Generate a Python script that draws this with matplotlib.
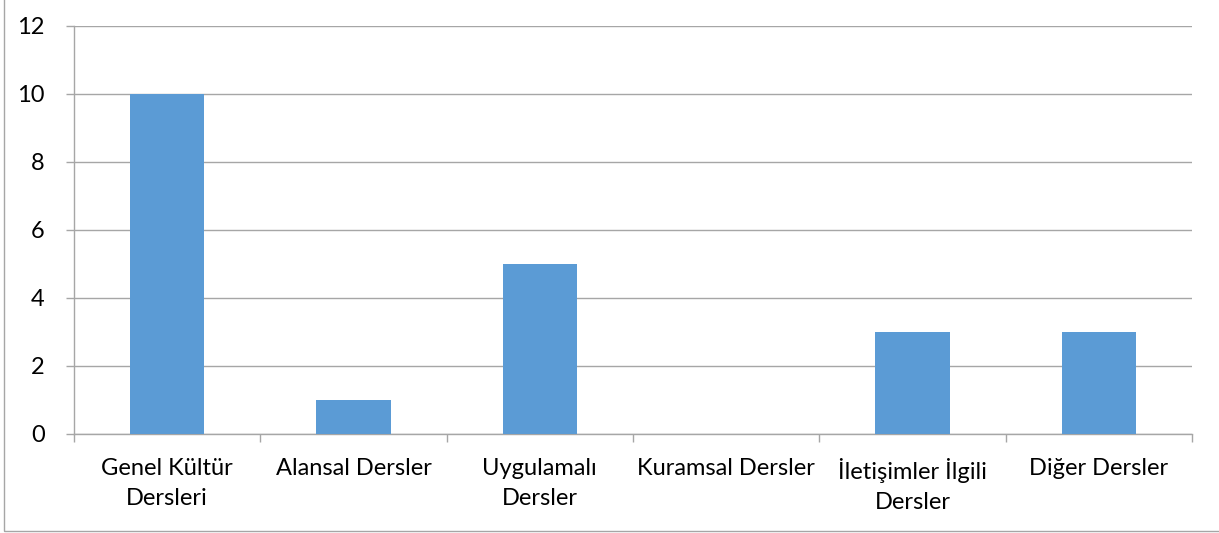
import matplotlib.pyplot as plt
import numpy as np
from matplotlib.patches import Rectangle

plt.rcParams['font.family'] = ['Lato', 'DejaVu Sans']

categories = ['Genel Kültür\nDersleri', 'Alansal Dersler', 'Uygulamalı\nDersler',
              'Kuramsal Dersler', 'İletişimler İlgili\nDersler', 'Diğer Dersler']
values = [10, 1, 5, 0, 3, 3]
yticks = [0, 2, 4, 6, 8, 10, 12]

grid_col = '#a6a6a6'
bar_col = '#5b9bd5'

fig = plt.figure(figsize=(12.19, 5.33), dpi=100)
ax = fig.add_axes([74/1219, 1 - 434/533, (1192-74)/1219, (434-26)/533])

x = np.arange(len(categories))
ax.bar(x, values, width=0.4, color=bar_col, zorder=3)

ax.set_xlim(-0.5, len(categories) - 0.5)
ax.set_ylim(0, 12)
ax.set_yticks(yticks)
ax.grid(axis='y', color=grid_col, linewidth=1, zorder=0)

ax.set_xticks(x)
ax.set_xticklabels(categories, fontsize=17, linespacing=1.55)
ax.set_xticks(np.arange(len(categories) + 1) - 0.5, minor=True)
ax.tick_params(axis='x', which='major', length=0, pad=17)
ax.tick_params(axis='x', which='minor', length=6, color=grid_col, width=1)
ax.tick_params(axis='y', length=6, color=grid_col, width=1, pad=15, labelsize=17)

for s in ['top', 'right']:
    ax.spines[s].set_visible(False)
for s in ['left', 'bottom']:
    ax.spines[s].set_color(grid_col)
    ax.spines[s].set_linewidth(1)

# outer chart border
fig.patches.append(Rectangle((4/1219, 2/533), 1.0, 1.0, transform=fig.transFigure,
                             fill=False, edgecolor='#a6a6a6', linewidth=1))

fig.savefig('out.png', dpi=100)
